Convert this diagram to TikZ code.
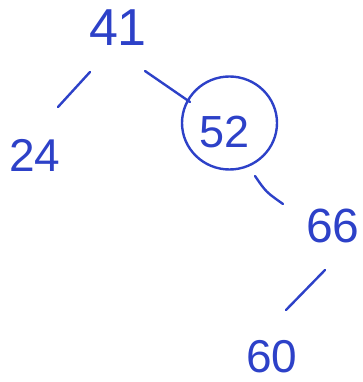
\documentclass[tikz,border=0pt]{standalone}
\usepackage{fontspec}
\setmainfont{Liberation Sans}
\usetikzlibrary{calc}
\definecolor{ink}{RGB}{45,65,200}
\begin{document}
\begin{tikzpicture}[x=1pt,y=-1pt,
  num/.style={text=ink,inner sep=0pt},
  edge/.style={draw=ink,line width=2.4pt,line cap=round}]
\useasboundingbox (0,0) rectangle (363,382);
\node[num,font=\fontsize{52}{52}\selectfont] (n41) at (118,28) {41};
\node[num,font=\fontsize{46}{46}\selectfont] (n24) at (35,155) {24};
\node[num,font=\fontsize{45}{45}\selectfont] (n52) at (225,132) {52};
\draw[draw=ink,line width=2.4pt] (229.5,123) ellipse [x radius=47.5,y radius=46.5];
\node[num,font=\fontsize{48}{48}\selectfont] (n66) at (333,226) {66};
\node[num,font=\fontsize{46}{46}\selectfont] (n60) at (272,357) {60};
\draw[edge] ($(n41)+(-28,44)$) -- ($(n24)+(23,-48)$);
\draw[edge] ($(n41)+(27,43)$) -- ($(n52)+(-35,-30)$);
\draw[edge] ($(n52)+(30,44)$) .. controls ($(n52)+(41,60)$) .. ($(n66)+(-50,-22)$);
\draw[edge] ($(n66)+(-8,44)$) -- ($(n60)+(14,-47)$);
\end{tikzpicture}
\end{document}
